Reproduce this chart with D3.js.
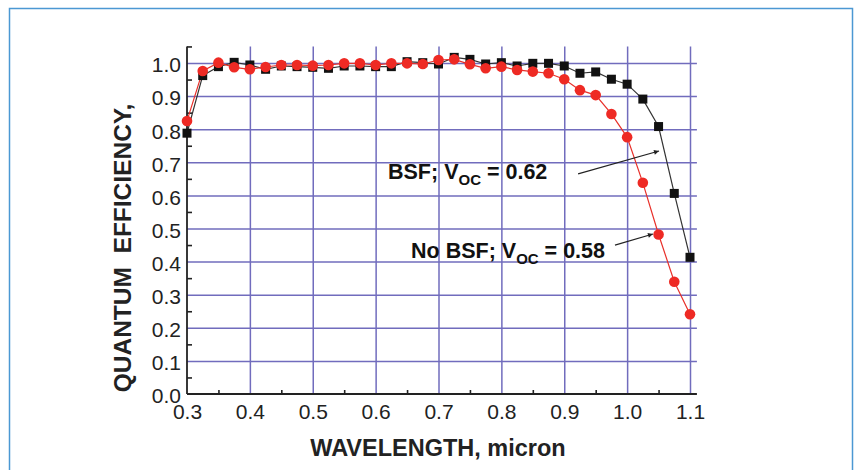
<!DOCTYPE html>
<html>
<head>
<meta charset="utf-8">
<script src="https://cdn.jsdelivr.net/npm/d3@7"></script>
<style>
  html, body { margin: 0; padding: 0; background: #ffffff; }
  svg { display: block; }
  text { font-family: "Liberation Sans", Arial, Helvetica, sans-serif; }
</style>
</head>
<body>
<svg id="chart" width="859" height="470"></svg>
<script>
// ---- data ----
const wavelengths = [0.3, 0.325, 0.35, 0.375, 0.4, 0.425, 0.45, 0.475, 0.5, 0.525, 0.55, 0.575,
  0.6, 0.625, 0.65, 0.675, 0.7, 0.725, 0.75, 0.775, 0.8, 0.825, 0.85, 0.875, 0.9, 0.925,
  0.95, 0.975, 1.0, 1.025, 1.05, 1.075, 1.1];
const qeBSF = [0.788, 0.962, 0.989, 1.002, 0.994, 0.981, 0.991, 0.989, 0.987, 0.984, 0.991, 0.991,
  0.989, 0.989, 1.004, 1.001, 0.997, 1.017, 1.011, 0.997, 1.001, 0.991, 0.999, 0.999, 0.991, 0.969,
  0.973, 0.951, 0.936, 0.891, 0.808, 0.606, 0.413];
const qeNoBSF = [0.825, 0.976, 1.001, 0.987, 0.981, 0.988, 0.994, 0.994, 0.992, 0.994, 0.999, 0.999,
  0.994, 0.999, 0.999, 0.997, 1.009, 1.011, 0.996, 0.984, 0.989, 0.979, 0.974, 0.969, 0.951, 0.918,
  0.903, 0.846, 0.776, 0.638, 0.482, 0.339, 0.241];
const xTickValues = [0.3, 0.4, 0.5, 0.6, 0.7, 0.8, 0.9, 1.0, 1.1];
const xMinorTicks = [0.35, 0.45, 0.55, 0.65, 0.75, 0.85, 0.95, 1.05];
const yTickValues = [0.0, 0.1, 0.2, 0.3, 0.4, 0.5, 0.6, 0.7, 0.8, 0.9, 1.0];
const yMinorTicks = [0.05, 0.15, 0.25, 0.35, 0.45, 0.55, 0.65, 0.75, 0.85, 0.95, 1.05];
const xTitle = "WAVELENGTH, micron";
const yTitle = "QUANTUM\u00A0\u00A0EFFICIENCY,";
const annotations = [
  { pre: "BSF; V", sub: "OC", post: " = 0.62", tx: 0.6197, ty: 0.6495, ax0: 0.922, ay0: 0.665, ax1: 1.0507, ay1: 0.734 },
  { pre: "No BSF; V", sub: "OC", post: " = 0.58", tx: 0.6563, ty: 0.411, ax0: 0.9807, ay0: 0.450, ax1: 1.0411, ay1: 0.4834 }
];

// ---- layout ----
const svg = d3.select("#chart");
const x = d3.scaleLinear().domain([0.3, 1.1]).range([187, 690]);
const y = d3.scaleLinear().domain([0, 1]).range([394, 63]);
const xEnd = 1.111;   // axis extends a bit past 1.1
const yEnd = 1.05;
const gridColor = "#716cbd";

// outer frame
svg.append("rect")
  .attr("x", 9.5).attr("y", 8.5).attr("width", 843).attr("height", 480)
  .attr("fill", "none").attr("stroke", "#4b98d3").attr("stroke-width", 1.5);

// gridlines - vertical
svg.append("g")
  .attr("transform", `translate(0,${y(0)})`)
  .call(d3.axisTop(x).tickValues(xTickValues.slice(1)).tickSize(y(0) - y(yEnd)).tickFormat(""))
  .call(g => g.select(".domain").remove())
  .call(g => g.selectAll("line").attr("stroke", gridColor).attr("stroke-width", 1.5));

// gridlines - horizontal
svg.append("g")
  .attr("transform", `translate(${x(0.3)},0)`)
  .call(d3.axisRight(y).tickValues(yTickValues.slice(1)).tickSize(x(xEnd) - x(0.3)).tickFormat(""))
  .call(g => g.select(".domain").remove())
  .call(g => g.selectAll("line").attr("stroke", gridColor).attr("stroke-width", 1.5));

// minor ticks
svg.append("g")
  .attr("transform", `translate(0,${y(0)})`)
  .call(d3.axisTop(x).tickValues(xMinorTicks).tickSize(4).tickFormat(""))
  .call(g => g.select(".domain").remove())
  .call(g => g.selectAll("line").attr("stroke", "#222").attr("stroke-width", 1.6));
svg.append("g")
  .attr("transform", `translate(${x(0.3)},0)`)
  .call(d3.axisRight(y).tickValues(yMinorTicks).tickSize(5).tickFormat(""))
  .call(g => g.select(".domain").remove())
  .call(g => g.selectAll("line").attr("stroke", "#222").attr("stroke-width", 1.6));

// axis lines
svg.append("line")
  .attr("x1", x(0.3)).attr("x2", x(xEnd)).attr("y1", y(0)).attr("y2", y(0))
  .attr("stroke", "#222").attr("stroke-width", 1.8);
svg.append("line")
  .attr("x1", x(0.3)).attr("x2", x(0.3)).attr("y1", y(0)).attr("y2", y(yEnd))
  .attr("stroke", "#222").attr("stroke-width", 1.8);

// tick labels
svg.append("g")
  .attr("transform", `translate(0,${y(0)})`)
  .call(d3.axisBottom(x).tickValues(xTickValues).tickSize(0).tickPadding(10).tickFormat(d3.format(".1f")))
  .call(g => g.select(".domain").remove())
  .call(g => g.selectAll("text").attr("font-size", 21).attr("fill", "#222")
    .attr("font-family", "'Liberation Sans', Arial, sans-serif"));
svg.append("g")
  .attr("transform", `translate(${x(0.3)},0)`)
  .call(d3.axisLeft(y).tickValues(yTickValues).tickSize(0).tickPadding(6).tickFormat(d3.format(".1f")))
  .call(g => g.select(".domain").remove())
  .call(g => g.selectAll("text").attr("font-size", 21).attr("fill", "#222").attr("dy", "0.42em")
    .attr("font-family", "'Liberation Sans', Arial, sans-serif"));

// axis titles
svg.append("text")
  .attr("x", 438).attr("y", 456)
  .attr("text-anchor", "middle")
  .attr("font-size", 23.5).attr("font-weight", "bold").attr("fill", "#222")
  .text(xTitle);
svg.append("text")
  .attr("transform", `translate(131,${248}) rotate(-90)`)
  .attr("text-anchor", "middle")
  .attr("font-size", 24.5).attr("font-weight", "bold").attr("fill", "#222")
  .text(yTitle);

// series lines
const line = (vals) => d3.line().x((d, i) => x(wavelengths[i])).y(d => y(d))(vals);
svg.append("path").attr("d", line(qeBSF)).attr("fill", "none").attr("stroke", "#333").attr("stroke-width", 1.2);
svg.append("path").attr("d", line(qeNoBSF)).attr("fill", "none").attr("stroke", "#e8302a").attr("stroke-width", 1.2);

// markers
const sq = 9;
svg.append("g").selectAll("rect").data(qeBSF).join("rect")
  .attr("x", (d, i) => x(wavelengths[i]) - sq / 2)
  .attr("y", d => y(d) - sq / 2)
  .attr("width", sq).attr("height", sq)
  .attr("fill", "#111");
svg.append("g").selectAll("circle").data(qeNoBSF).join("circle")
  .attr("cx", (d, i) => x(wavelengths[i]))
  .attr("cy", d => y(d))
  .attr("r", 5.3)
  .attr("fill", "#ee2a24");

// annotations
const defs = svg.append("defs");
defs.append("marker").attr("id", "arr")
  .attr("viewBox", "0 0 10 10").attr("refX", 10).attr("refY", 5)
  .attr("markerWidth", 10).attr("markerHeight", 5).attr("orient", "auto")
  .attr("markerUnits", "userSpaceOnUse")
  .append("path").attr("d", "M0,0 L10,5 L0,10 z").attr("fill", "#222");

annotations.forEach(a => {
  const t = svg.append("text")
    .attr("x", x(a.tx)).attr("y", y(a.ty))
    .attr("font-size", 21.5).attr("font-weight", "bold").attr("fill", "#111");
  t.append("tspan").text(a.pre);
  t.append("tspan").attr("font-size", 15).attr("dy", 6).text(a.sub);
  t.append("tspan").attr("dy", -6).text(a.post);
  svg.append("line")
    .attr("x1", x(a.ax0)).attr("y1", y(a.ay0))
    .attr("x2", x(a.ax1)).attr("y2", y(a.ay1))
    .attr("stroke", "#222").attr("stroke-width", 1.2)
    .attr("marker-end", "url(#arr)");
});
</script>
</body>
</html>
